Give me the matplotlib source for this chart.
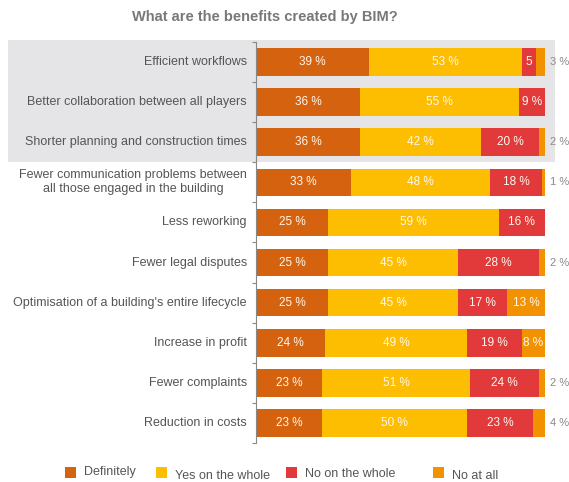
import matplotlib
matplotlib.use("Agg")
import matplotlib.pyplot as plt
from matplotlib.patches import Rectangle
import numpy as np

plt.rcParams['font.family'] = ['Liberation Sans', 'DejaVu Sans']

title = "What are the benefits created by BIM?"
categories = [
    "Efficient workflows",
    "Better collaboration between all players",
    "Shorter planning and construction times",
    "Fewer communication problems between\nall those engaged in the building",
    "Less reworking",
    "Fewer legal disputes",
    "Optimisation of a building's entire lifecycle",
    "Increase in profit",
    "Fewer complaints",
    "Reduction in costs",
]
series_names = ["Definitely", "Yes on the whole", "No on the whole", "No at all"]
definitely = [39, 36, 36, 33, 25, 25, 25, 24, 23, 23]
yes_whole = [53, 55, 42, 48, 59, 45, 45, 49, 51, 50]
no_whole = [5, 9, 20, 18, 16, 28, 17, 19, 24, 23]
no_at_all = [3, 0, 2, 1, 0, 2, 13, 8, 2, 4]
colors = ["#D5620F", "#FDBD00", "#E2393A", "#F39200"]

series = [definitely, yes_whole, no_whole, no_at_all]

fig = plt.figure(figsize=(5.69, 4.82), dpi=100)
W, H = 569, 482
ax = fig.add_axes([256 / W, (H - 443) / H, (545 - 256) / W, (443 - 42) / H])
ax.set_facecolor('none')

# gray highlight band behind top three rows
fig.patches.append(Rectangle((8 / W, (H - 162) / H), (555 - 8) / W, (162 - 40) / H,
                             transform=fig.transFigure, facecolor="#E5E5E7",
                             edgecolor='none', zorder=-10))

y = np.arange(len(categories))
left = np.zeros(len(categories))
for vals, c in zip(series, colors):
    vals = np.array(vals, dtype=float)
    ax.barh(y, vals, left=left, height=0.69, color=c, edgecolor='none', zorder=2)
    for i, v in enumerate(vals):
        if v >= 5:
            txt = "5" if (v == 5) else f"{int(v)} %"
            ax.text(left[i] + v / 2, y[i], txt, ha='center', va='center',
                    color='#FFF8EE', fontsize=8.5, zorder=3)
        elif v > 0:
            ax.text(101.6, y[i], f"{int(v)} %", ha='left', va='center',
                    color='#8a8a8a', fontsize=8, clip_on=False)
    left += vals

ax.set_xlim(0, 100)
ax.set_ylim(len(categories) - 0.5, -0.5)
ax.set_xticks([])
ax.set_yticks(np.arange(-0.5, len(categories), 1.0))
ax.set_yticklabels([])
ax.tick_params(axis='y', length=3, color='#888888', width=0.8)
for s in ['top', 'right', 'bottom']:
    ax.spines[s].set_visible(False)
ax.spines['left'].set_color('#888888')
ax.spines['left'].set_linewidth(0.8)

for i, cat in enumerate(categories):
    ax.text(-3.2, y[i], cat, ha='right', va='center', color='#555555',
            fontsize=9, multialignment='center', transform=ax.transData)

fig.text(265 / W, 1 - 17 / H, title, ha='center', va='center', fontsize=10.5,
         fontweight='bold', color='#787878')

# legend
leg_x = [65, 156, 286, 433]
leg_y = [472, 476, 474, 476]
for name, c, lx, ly in zip(series_names, colors, leg_x, leg_y):
    fig.patches.append(Rectangle((lx / W, (H - 478) / H), 11 / W, 11 / H,
                                 transform=fig.transFigure, facecolor=c, edgecolor='none'))
    fig.text((lx + 19) / W, 1 - ly / H, name, ha='left', va='center',
             fontsize=9, color='#555555')

fig.savefig("out.png", dpi=100)
